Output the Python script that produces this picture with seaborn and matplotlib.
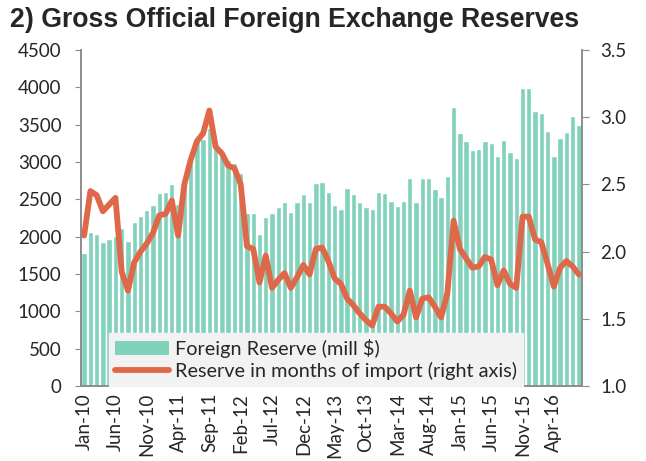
import matplotlib
matplotlib.use("Agg")
import matplotlib.pyplot as plt
import matplotlib.ticker as mticker
from matplotlib.patches import Patch
from matplotlib.lines import Line2D
import seaborn as sns
import pandas as pd

# monthly data, Jan-10 .. Aug-16
months = pd.date_range("2010-01-01", "2016-08-01", freq="MS")
month_labels = [d.strftime("%b-%y") for d in months]

reserves = [
    1780, 2060, 2035, 1930, 1970, 2010, 2115, 1940, 2190, 2280,
    2355, 2425, 2585, 2595, 2710, 2435, 2760, 3025, 3280, 3305,
    3450, 3205, 3125, 3025, 2990, 2850, 2315, 2315, 2035, 2265,
    2315, 2400, 2465, 2325, 2465, 2565, 2460, 2725, 2735, 2600,
    2425, 2370, 2655, 2565, 2470, 2400, 2365, 2595, 2585, 2480,
    2410, 2480, 2780, 2465, 2780, 2790, 2645, 2530, 2815, 3730,
    3395, 3280, 3160, 3170, 3280, 3250, 3075, 3290, 3130, 3050,
    3990, 3990, 3685, 3660, 3415, 3075, 3325, 3405, 3620, 3490,
]

import_months = [
    2.12, 2.45, 2.42, 2.30, 2.35, 2.40, 1.85, 1.71, 1.92, 2.00,
    2.06, 2.14, 2.27, 2.28, 2.38, 2.12, 2.50, 2.68, 2.82, 2.88,
    3.05, 2.78, 2.73, 2.64, 2.62, 2.50, 2.04, 2.02, 1.77, 1.97,
    1.73, 1.79, 1.84, 1.73, 1.81, 1.90, 1.83, 2.02, 2.03, 1.93,
    1.80, 1.76, 1.65, 1.60, 1.54, 1.49, 1.45, 1.59, 1.59, 1.54,
    1.48, 1.53, 1.71, 1.51, 1.65, 1.66, 1.59, 1.51, 1.69, 2.23,
    2.02, 1.95, 1.88, 1.89, 1.96, 1.94, 1.75, 1.86, 1.76, 1.73,
    2.26, 2.26, 2.09, 2.07, 1.91, 1.74, 1.88, 1.93, 1.89, 1.83,
]

bar_color = "#80d2ba"
line_color = "#e0684a"
spine_color = "#8c8c8c"

df = pd.DataFrame({
    "month": month_labels,
    "pos": range(len(month_labels)),
    "reserve": reserves,
    "months_import": import_months,
})

sns.set_style("white")
plt.rcParams["font.family"] = ["Lato", "DejaVu Sans"]

fig = plt.figure(figsize=(6.46, 4.61), dpi=100)
ax = fig.add_axes([81 / 646, 1 - 386 / 461, 501 / 646, 336 / 461])

sns.barplot(data=df, x="pos", y="reserve", color=bar_color, saturation=1,
            width=0.86, ax=ax)
ax.set_xlim(-0.5, len(df) - 0.5)
ax.set_ylim(0, 4500)
ax.yaxis.set_major_locator(mticker.MultipleLocator(500))

ax2 = ax.twinx()
sns.lineplot(data=df, x="pos", y="months_import", color=line_color,
             linewidth=4.2, ax=ax2, solid_capstyle="round")
ax2.set_ylim(1.0, 3.5)
ax2.yaxis.set_major_locator(mticker.MultipleLocator(0.5))
ax2.yaxis.set_major_formatter(mticker.FormatStrFormatter("%.1f"))
ax2.set_xlim(-0.5, len(df) - 0.5)

tick_fs = 13.5
tick_pos = list(range(0, len(df), 5))
ax.set_xticks(tick_pos)
ax.set_xticklabels([month_labels[i] for i in tick_pos], rotation=90,
                   fontsize=tick_fs)

for a in (ax, ax2):
    a.set_xlabel("")
    a.set_ylabel("")
    a.spines["top"].set_visible(False)
    for s in ("left", "right", "bottom"):
        a.spines[s].set_color(spine_color)
        a.spines[s].set_linewidth(1.2)

ax.tick_params(axis="y", labelsize=tick_fs, length=4, color=spine_color,
               direction="out", left=True, pad=10)
ax.tick_params(axis="x", length=0, pad=5)
ax2.tick_params(axis="y", labelsize=tick_fs, length=5, color=spine_color,
                direction="out", right=True, pad=8)

handles = [
    Patch(facecolor=bar_color, edgecolor="none"),
    Line2D([0], [0], color=line_color, linewidth=4.2, solid_capstyle="round"),
]
labels = ["Foreign Reserve (mill $)", "Reserve in months of import (right axis)"]
leg = ax2.legend(handles, labels, loc="lower left",
                 bbox_to_anchor=(0.056, 0.0), borderaxespad=0,
                 fontsize=14.3, frameon=True, fancybox=False,
                 facecolor="#f2f2f2", edgecolor="#f2f2f2", framealpha=1,
                 handlelength=2.7, handletextpad=0.3, borderpad=0.3,
                 labelspacing=0.2)

fig.text(10 / 646, 1 - 20 / 461, "2) Gross Official Foreign Exchange Reserves",
         fontsize=19.2, fontweight="bold", family=["Liberation Sans", "DejaVu Sans"],
         va="center", ha="left")

fig.savefig("out.png", dpi=100)
